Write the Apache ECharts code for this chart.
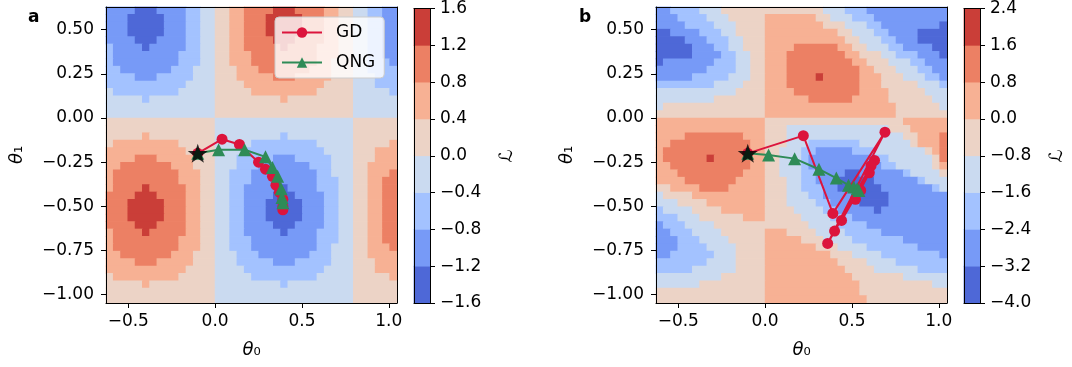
<!DOCTYPE html>
<html><head><meta charset="utf-8">
<script src="https://cdn.jsdelivr.net/npm/echarts@6/dist/echarts.min.js"></script>
<style>html,body{margin:0;padding:0;background:#fff}#c{width:1072px;height:367px}</style>
</head><body><div id="c"></div>
<script>
// ---- axis ranges and ticks ----
const xRange = [-0.6283, 1.0472];
const yRange = [-1.0472, 0.6283];
const xTicks = [-0.5, 0.0, 0.5, 1.0];
const yTicks = [-1.0, -0.75, -0.5, -0.25, 0.0, 0.25, 0.5];
// ---- contour levels (colorbars) ----
const levelsA = [-1.6, -1.2, -0.8, -0.4, 0.0, 0.4, 0.8, 1.2, 1.6];
const levelsB = [-4.0, -3.2, -2.4, -1.6, -0.8, 0.0, 0.8, 1.6, 2.4];
const levelColors = ['#4e68d7', '#779af7', '#a3c2ff', '#cadaf0', '#ecd3c6', '#f7b194', '#ec8064', '#ca3e38'];
// ---- level index of each cell (40 x 40, top row first) ----
const gridA = [
"1111000111122334455666677766665544332211",
"1110000011122334455666777776665544332211",
"1110000011122334455666777776665544332211",
"1110000011122334455666777776665544332211",
"1111000111122334455666677766665544332211",
"2111101111122334455666667666655544332211",
"2111111111222334455566666666655544332211",
"2111111111222334455566666666655444332221",
"2211111112223334445556666666555444332222",
"2222111222223334445555566655555444333222",
"2222222222233334444555555555554444333222",
"3222222222333334444455555555544444333332",
"3333323333333334444444445444444444333333",
"3333333333333334444444444444444444333333",
"3333333333333334444444444444444444333333",
"4444444444444443333333333333333333444444",
"4444444444444443333333333333333333444444",
"4444454444444443333333332333333333444444",
"4555555555444443333322222222233333444445",
"5555555555544443333222222222223333444555",
"5555666555554443332222211122222333444555",
"5566666665554443332221111111222333445555",
"5666666666555443322211111111122333445556",
"5666666666555443322211111111122233445566",
"5666676666655443322111110111122233445566",
"6666777666655443322111100011112233445566",
"6667777766655443322111000001112233445566",
"6667777766655443322111000001112233445566",
"6667777766655443322111000001112233445566",
"6666777666655443322111100011112233445566",
"5666676666655443322111110111122233445566",
"5666666666555443322211111111122233445566",
"5666666666555443322211111111122333445556",
"5566666665554443332221111111222333445555",
"5555666555554443332222211122222333444555",
"5555555555544443333222222222223333444555",
"4555555555444443333322222222233333444445",
"4444454444444443333333332333333333444444",
"4444444444444443333333333333333333444444",
"4444444444444443333333333333333333444444"
];
const gridB = [
"1122223334444444444444433322211111111111",
"1112222333444445555555443332221111111111",
"1111222233344445555555544433322111111110",
"0011112223344445555555555443332211110000",
"0000111222334445555555555544333221110000",
"0000011122334445555666666554433322111100",
"0000011112233445556666666655444332221110",
"0111111122233445556666666665544433322111",
"1111111222233445556666666666554443332211",
"1111122222333445556666766666555444333221",
"2222222233334445556666666666555444443332",
"3333333333344445555666666666555544444333",
"3333333344444445555556666665555544444433",
"3444444444444445555555555555555554444443",
"4444444444444445555555555555555554444444",
"5555555555555554444444444444444444555555",
"5555555555555554443333333333333344455555",
"5555666666665554443333333333333333445556",
"5566666666666554443332222222333333345556",
"5666666666666554433322111112223333333456",
"5666666766666554433321111111112233333346",
"5566666666666554433321111111111223333345",
"5556666666665554433322111100111111233334",
"5555666666655554443322111000001111112333",
"4455556666555554443322211000000111111123",
"3444455555555554443332211110000011111111",
"3334444555555554443333221111000011111111",
"2333344445555554444333322111110111111111",
"2223334444445554444433332221111111111111",
"1222333344444444444443333222211111111111",
"1122233334444445554444333322222111111111",
"1112223333444445555544433332222222111111",
"1112222333344445555555444333322222221111",
"1122222233344445555555554443333222222221",
"2222222333344445555555555444433332222222",
"2222233333344445555555555544443333332222",
"3333333334444445555555555554444444333333",
"3333334444444445555555555555444444444433",
"4444444444444445555555555555444444444444",
"4444444444444445555555555555544444444444"
];
// ---- optimisation trajectories ----
const startPoint = [[-0.10, -0.20]];
const gdA = [[-0.10,-0.20],[0.04,-0.12],[0.14,-0.15],[0.25,-0.25],[0.29,-0.29],[0.33,-0.33],[0.35,-0.38],[0.37,-0.42],[0.39,-0.46],[0.39,-0.50],[0.39,-0.52]];
const qngA = [[-0.10,-0.20],[0.02,-0.18],[0.17,-0.18],[0.29,-0.22],[0.33,-0.28],[0.36,-0.33],[0.38,-0.40],[0.385,-0.45],[0.39,-0.48]];
const gdB = [[-0.10,-0.20],[0.22,-0.10],[0.39,-0.54],[0.69,-0.08],[0.36,-0.71],[0.63,-0.24],[0.40,-0.64],[0.61,-0.27],[0.44,-0.58],[0.60,-0.31],[0.52,-0.46],[0.55,-0.41]];
const qngB = [[-0.10,-0.20],[0.02,-0.21],[0.17,-0.23],[0.31,-0.29],[0.41,-0.34],[0.48,-0.38],[0.51,-0.39],[0.53,-0.40],[0.54,-0.41]];

const FONT = 'DejaVu Sans';
const FS = 17;
const fmt = d => v => (v < -1e-9 ? '\u2212' : '') + Math.abs(v).toFixed(d);

function cellRuns(rows) {
  const ny = rows.length, nx = rows[0].length;
  const dx = (xRange[1] - xRange[0]) / nx, dy = (yRange[1] - yRange[0]) / ny;
  const out = [];
  rows.forEach((row, j) => {
    let s = 0;
    for (let i = 1; i <= row.length; i++) {
      if (i === row.length || row[i] !== row[s]) {
        out.push([xRange[0] + s * dx, xRange[0] + i * dx, yRange[1] - j * dy, yRange[1] - (j + 1) * dy, +row[s]]);
        s = i;
      }
    }
  });
  return out;
}
function barRuns(levels) {
  return levels.slice(0, -1).map((lo, k) => [0, 1, lo, levels[k + 1], k]);
}
function renderCell(params, api) {
  const p0 = api.coord([api.value(0), api.value(2)]);
  const p1 = api.coord([api.value(1), api.value(3)]);
  const x = Math.min(p0[0], p1[0]), y = Math.min(p0[1], p1[1]);
  return {
    type: 'rect',
    shape: { x: x - 0.35, y: y - 0.35, width: Math.abs(p1[0] - p0[0]) + 0.7, height: Math.abs(p1[1] - p0[1]) + 0.7 },
    style: { fill: levelColors[api.value(4)] }
  };
}

const black = { color: '#000', width: 1 };
const lbl = (d, vals, extra) => Object.assign({ customValues: vals, formatter: fmt(d), color: '#000', fontSize: FS, fontFamily: FONT }, extra || {});
const tick = vals => ({ show: true, length: 5, customValues: vals, lineStyle: { color: '#000', width: 1 } });
const nameStyle = { color: '#000', fontFamily: FONT, fontSize: 18,
  rich: { t: { fontStyle: 'italic', fontSize: 18, fontFamily: FONT, color: '#000' }, s: { fontSize: 18, fontFamily: FONT, color: '#000' } } };
const plain = (g, pos, min, max) => ({ gridIndex: g, type: 'value', position: pos, min: min, max: max, z: 10,
  axisLine: { show: true, onZero: false, lineStyle: black }, axisTick: { show: false }, axisLabel: { show: false }, splitLine: { show: false } });

function xMain(g) {
  return { gridIndex: g, type: 'value', position: 'bottom', min: xRange[0], max: xRange[1], z: 10,
    axisLine: { show: true, onZero: false, lineStyle: black }, axisTick: tick(xTicks),
    axisLabel: lbl(1, xTicks, { margin: 10 }), splitLine: { show: false },
    name: '{t|θ}{s|₀}', nameLocation: 'middle', nameGap: 38, nameTextStyle: nameStyle };
}
function yMain(g) {
  return { gridIndex: g, type: 'value', position: 'left', min: yRange[0], max: yRange[1], z: 10,
    axisLine: { show: true, onZero: false, lineStyle: black }, axisTick: tick(yTicks),
    axisLabel: lbl(2, yTicks, { margin: 12 }), splitLine: { show: false },
    name: '{t|θ}{s|₁}', nameLocation: 'middle', nameRotate: 90, nameGap: 80, nameTextStyle: nameStyle };
}
function yBar(g, levels) {
  return { gridIndex: g, type: 'value', position: 'right', min: levels[0], max: levels[levels.length - 1], z: 10,
    axisLine: { show: true, onZero: false, lineStyle: black }, axisTick: tick(levels),
    axisLabel: lbl(1, levels, { margin: 10 }), splitLine: { show: false },
    name: 'ℒ', nameLocation: 'middle', nameRotate: 90, nameGap: 68,
    nameTextStyle: { color: '#000', fontFamily: FONT, fontSize: 18, fontStyle: 'italic' } };
}

const starPath = 'path://M0,-10L2.35,-3.24L9.51,-3.09L3.8,1.24L5.88,8.09L0,4L-5.88,8.09L-3.8,1.24L-9.51,-3.09L-2.35,-3.24Z';
const red = '#dc143c', green = '#2e8b57';
function trajSeries(xi, yi, gd, qng) {
  return [
    { type: 'line', name: 'GD', xAxisIndex: xi, yAxisIndex: yi, data: gd, z: 3, symbol: 'circle', symbolSize: 11,
      lineStyle: { color: red, width: 2 }, itemStyle: { color: red }, silent: true },
    { type: 'line', name: 'QNG', xAxisIndex: xi, yAxisIndex: yi, data: qng, z: 4, symbol: 'triangle', symbolSize: 13,
      lineStyle: { color: green, width: 2 }, itemStyle: { color: green }, silent: true },
    { type: 'scatter', name: 'start', xAxisIndex: xi, yAxisIndex: yi, data: startPoint, z: 5, symbol: starPath,
      symbolKeepAspect: true, symbolSize: 20, itemStyle: { color: '#000' }, silent: true }
  ];
}

const chart = echarts.init(document.getElementById('c'));
chart.setOption({
  animation: false,
  backgroundColor: '#fff',
  textStyle: { fontFamily: FONT },
  title: [
    { text: 'a', left: 23, top: 4, textStyle: { fontSize: 17, fontWeight: 'bold', color: '#000', fontFamily: FONT } },
    { text: 'b', left: 574, top: 4, textStyle: { fontSize: 17, fontWeight: 'bold', color: '#000', fontFamily: FONT } }
  ],
  legend: {
    data: ['GD', 'QNG'], orient: 'vertical', left: 275, top: 17,
    itemWidth: 40, itemHeight: 13, itemGap: 13,
    padding: [7, 9, 7, 6],
    backgroundColor: 'rgba(255,255,255,0.8)', borderColor: '#cccccc', borderWidth: 1, borderRadius: 4,
    textStyle: { fontSize: 17, color: '#000', fontFamily: FONT, padding: [0, 0, 0, 9] }
  },
  grid: [
    { left: 106, top: 7, width: 291, height: 296 },
    { left: 656, top: 7, width: 291, height: 296 },
    { left: 414, top: 7, width: 16, height: 296 },
    { left: 964, top: 7, width: 16, height: 296 }
  ],
  xAxis: [
    xMain(0), plain(0, 'top', xRange[0], xRange[1]),
    xMain(1), plain(1, 'top', xRange[0], xRange[1]),
    plain(2, 'bottom', 0, 1), plain(2, 'top', 0, 1),
    plain(3, 'bottom', 0, 1), plain(3, 'top', 0, 1)
  ],
  yAxis: [
    yMain(0), plain(0, 'right', yRange[0], yRange[1]),
    yMain(1), plain(1, 'right', yRange[0], yRange[1]),
    yBar(2, levelsA), plain(2, 'left', levelsA[0], levelsA[8]),
    yBar(3, levelsB), plain(3, 'left', levelsB[0], levelsB[8])
  ],
  series: [
    { type: 'custom', name: 'landscapeA', xAxisIndex: 0, yAxisIndex: 0, data: cellRuns(gridA), renderItem: renderCell,
      encode: { x: [0, 1], y: [2, 3] }, z: 1, silent: true },
    { type: 'custom', name: 'landscapeB', xAxisIndex: 2, yAxisIndex: 2, data: cellRuns(gridB), renderItem: renderCell,
      encode: { x: [0, 1], y: [2, 3] }, z: 1, silent: true },
    { type: 'custom', name: 'colorbarA', xAxisIndex: 4, yAxisIndex: 4, data: barRuns(levelsA), renderItem: renderCell,
      encode: { x: [0, 1], y: [2, 3] }, z: 1, silent: true },
    { type: 'custom', name: 'colorbarB', xAxisIndex: 6, yAxisIndex: 6, data: barRuns(levelsB), renderItem: renderCell,
      encode: { x: [0, 1], y: [2, 3] }, z: 1, silent: true }
  ].concat(trajSeries(0, 0, gdA, qngA), trajSeries(2, 2, gdB, qngB))
});
</script>
</body></html>
